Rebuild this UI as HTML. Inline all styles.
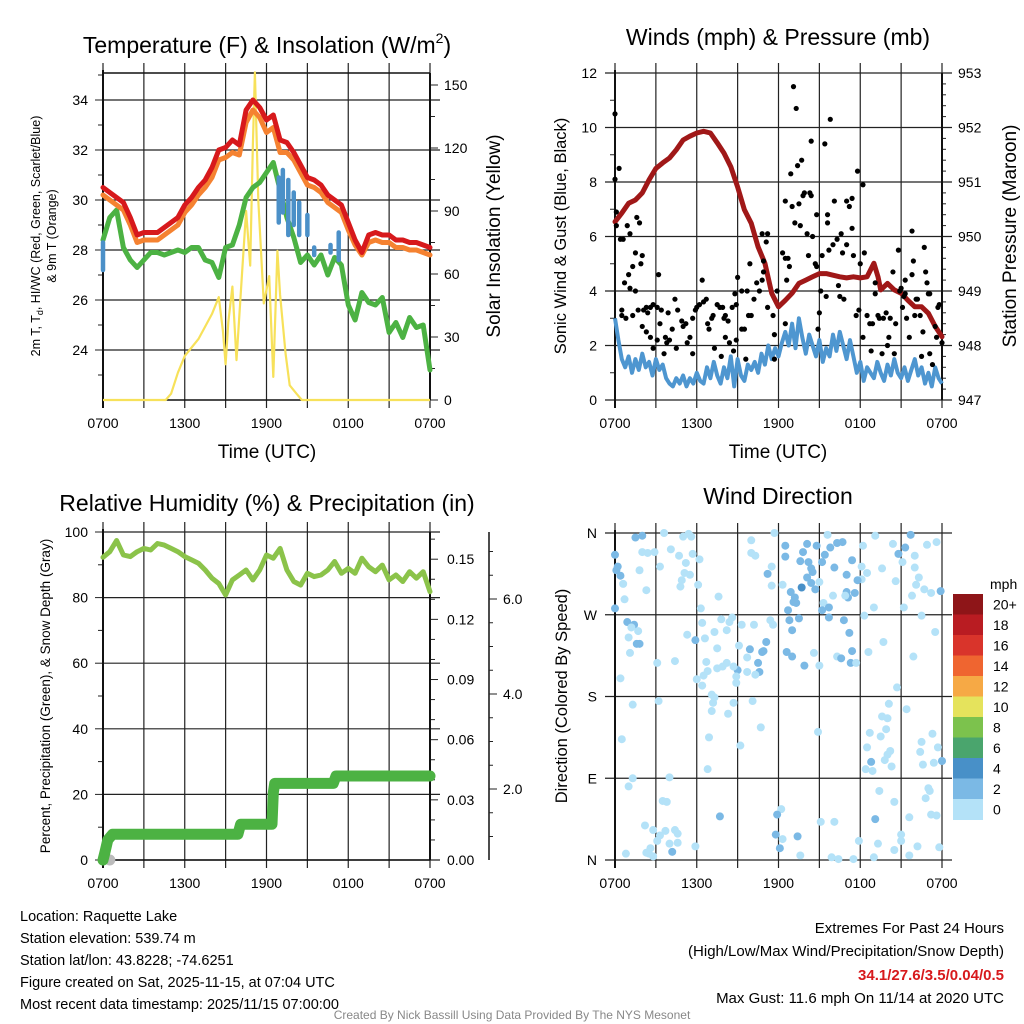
<!DOCTYPE html>
<html><head><meta charset="utf-8"><style>
html,body{margin:0;padding:0;background:#fff;}
svg{display:block;font-family:"Liberation Sans",Arial,sans-serif;}
</style></head><body>
<svg id="c" width="1024" height="1024" viewBox="0 0 1024 1024" xmlns="http://www.w3.org/2000/svg">
<rect width="1024" height="1024" fill="#fff"/>
<text x="267" y="53" font-size="23" text-anchor="middle">Temperature (F) &amp; Insolation (W/m<tspan font-size="14" dy="-10">2</tspan><tspan dy="10">)</tspan></text>
<text x="778" y="45" font-size="23" text-anchor="middle">Winds (mph) &amp; Pressure (mb)</text>
<text x="267" y="511" font-size="23" text-anchor="middle">Relative Humidity (%) &amp; Precipitation (in)</text>
<text x="778" y="504" font-size="23" text-anchor="middle">Wind Direction</text>
<g font-size="12.5" text-anchor="middle">
<text transform="translate(40,236) rotate(-90)">2m T, T<tspan font-size="9" dy="3">d</tspan><tspan dy="-3">, HI/WC (Red, Green, Scarlet/Blue)</tspan></text>
<text transform="translate(56,236) rotate(-90)">&amp; 9m T (Orange)</text>
</g>
<text transform="translate(500,236) rotate(-90)" font-size="19" text-anchor="middle">Solar Insolation (Yellow)</text>
<text x="267" y="458" font-size="19" text-anchor="middle">Time (UTC)</text>
<text x="778" y="458" font-size="19" text-anchor="middle">Time (UTC)</text>
<text transform="translate(566,236) rotate(-90)" font-size="16.5" text-anchor="middle">Sonic Wind &amp; Gust (Blue, Black)</text>
<text transform="translate(1016,236) rotate(-90)" font-size="19" text-anchor="middle">Station Pressure (Maroon)</text>
<text transform="translate(50,696) rotate(-90)" font-size="13.5" text-anchor="middle">Percent, Precipitation (Green), &amp; Snow Depth (Gray)</text>
<text transform="translate(567,696) rotate(-90)" font-size="16.5" text-anchor="middle">Direction (Colored By Speed)</text>
<g font-size="14.5">
<text x="20" y="921">Location: Raquette Lake</text>
<text x="20" y="943">Station elevation: 539.74 m</text>
<text x="20" y="965">Station lat/lon: 43.8228; -74.6251</text>
<text x="20" y="987">Figure created on Sat, 2025-11-15, at 07:04 UTC</text>
<text x="20" y="1009">Most recent data timestamp: 2025/11/15 07:00:00</text>
</g>
<g font-size="15" text-anchor="end">
<text x="1004" y="933">Extremes For Past 24 Hours</text>
<text x="1004" y="956">(High/Low/Max Wind/Precipitation/Snow Depth)</text>
<text x="1004" y="980" fill="#d7191c" font-weight="bold">34.1/27.6/3.5/0.04/0.5</text>
<text x="1004" y="1003">Max Gust: 11.6 mph On 11/14 at 2020 UTC</text>
</g>
<text x="512" y="1019" font-size="12" fill="#888" text-anchor="middle">Created By Nick Bassill Using Data Provided By The NYS Mesonet</text>
</svg>
<script>
// ---------- Panel 1 data ----------
const tHours = [0,0.5,1,1.5,2,2.5,3,3.5,4,4.5,5,5.5,6,6.5,7,7.5,8,8.5,9,9.5,10,10.5,11,11.5,12,12.5,13,13.5,14,14.5,15,15.5,16,16.5,17,17.5,18,18.5,19,19.5,20,20.5,21,21.5,22,22.5,23,23.5,24];
const tempRed = [30.5,30.3,30.1,29.9,29.3,28.6,28.7,28.7,28.7,28.9,29.1,29.3,29.8,30.1,30.5,30.8,31.3,32.0,32.1,32.4,32.2,33.6,34.0,33.7,33.2,33.4,32.4,32.3,31.9,31.4,30.9,30.8,30.6,30.2,30.0,29.8,29.1,28.4,27.9,28.6,28.7,28.6,28.6,28.4,28.4,28.3,28.3,28.2,28.1];
const temp9m = [30.2,30.0,29.8,29.6,29.0,28.3,28.4,28.4,28.4,28.6,28.8,29.0,29.5,29.8,30.2,30.5,30.9,31.6,31.7,31.9,31.8,33.1,33.6,33.3,32.7,32.9,31.9,31.9,31.6,31.1,30.6,30.5,30.3,29.9,29.7,29.5,28.8,28.2,27.8,28.3,28.4,28.3,28.3,28.1,28.1,28.0,28.0,27.9,27.8];
const dewGreen = [28.4,29.3,29.6,28.1,27.6,27.3,27.6,27.9,27.9,27.8,27.9,28.0,27.9,28.1,28.1,27.6,27.5,26.9,28.1,28.2,29.0,30.1,30.5,30.7,31.1,31.5,30.4,29.3,28.5,27.5,27.8,27.4,27.8,27.0,27.7,27.4,25.8,25.2,26.3,25.9,25.8,26.1,24.7,25.1,24.5,25.3,24.9,25.0,23.2];
const wcHours = [0.0,12.9,13.2,13.6,14.0,14.4,15.0,15.5,16.7,17.3];
const wcLow = [27.2,29.1,29.5,28.6,29.0,28.6,28.6,27.8,27.9,27.6];
const wcHigh = [28.3,30.9,31.2,30.8,30.3,29.9,29.4,28.1,28.2,28.7];
const solarHours = [0,4.6,5,5.5,6,6.5,7,7.5,8,8.5,8.8,9,9.2,9.5,9.8,10.2,10.5,10.8,11,11.15,11.4,11.8,12.2,12.5,12.8,13,13.4,13.7,14.2,14.6,24];
const solarVals = [0,0,3,13,21,25,29,35,41,49,33,17,37,54,19,60,90,64,122,156,95,46,59,11,71,50,22,7,3,0,0];
const tempTicks = [24,26,28,30,32,34];
const solarTicks = [0,30,60,90,120,150];
const timeLabels = ["0700","1300","1900","0100","0700"];
// ---------- Panel 2 data ----------
const presHours = [0,0.5,1,1.5,2,2.5,3,3.5,4,4.5,5,5.5,6,6.5,7,7.5,8,8.5,9,9.5,10,10.5,11,11.5,12,12.5,13,13.5,14,14.5,15,15.5,16,16.5,17,17.5,18,18.5,19,19.3,19.5,20,20.5,21,21.5,22,22.5,23,23.5,24];
const presVals = [950.27,950.43,950.61,950.67,950.8,951.04,951.25,951.35,951.44,951.59,951.77,951.84,951.9,951.93,951.9,951.72,951.53,951.28,950.91,950.49,950.24,949.81,949.51,948.96,948.71,948.83,948.96,949.14,949.2,949.26,949.32,949.32,949.29,949.26,949.24,949.26,949.24,949.26,949.51,949.26,949.02,949.14,949.02,948.96,948.83,948.71,948.71,948.59,948.35,948.16];
const sonicVals = [3.0,2.2,1.5,1.2,1.6,1.0,1.5,1.1, 1.7,1.2,1.4,0.9,1.5,1.1,1.3,0.8, 0.6,0.5,0.8,0.6,0.9,0.5,0.8,0.6, 1.0,0.7,0.6,1.2,0.8,1.4,0.9,0.6, 1.2,0.8,1.6,0.5,1.5,0.9,0.7,1.3, 1.1,1.4,1.0,1.7,1.3,2.0,1.5,1.9, 1.6,2.1,2.5,2.0,2.8,1.9,3.0,2.3, 1.7,2.4,2.0,1.6,2.2,1.4,1.9,1.6, 2.4,1.8,2.5,2.0,1.5,2.2,1.6,1.0, 1.4,0.7,1.2,1.0,0.8,1.4,1.0,0.7, 1.3,0.9,1.5,1.0,0.8,1.2,0.7,1.1, 1.5,0.9,1.2,0.6,1.0,0.5,1.2,0.8, 0.6];
const gustHours = [0,0,0.3,0.1,0.1,0.4,0.6,0.9,1.1,1.6,1.8,1.5,1.3,1.9,2.0,1.0,0.7,1.1,1.5,3.2,0.5,0.5,0.8,1.3,1.7,2.1,2.3,2.4,2.6,2.8,3.1,2.0,2.3,2.6,2.8,3.1,3.4,3.3,3.7,3.6,3.8,3.9,4.0,4.2,4.4,4.6,4.9,4.5,5.0,5.2,5.3,5.5,5.7,5.7,5.9,6.0,6.2,6.4,6.5,6.7,6.8,6.9,7.1,7.2,7.3,7.5,7.7,7.8,7.9,8.0,8.1,8.1,8.3,8.4,8.6,8.7,8.9,8.9,8.8,9.0,9.3,9.3,9.5,9.6,9.7,9.8,9.9,10.0,10.2,10.4,10.6,10.8,10.9,10.9,11.1,10.8,11.2,11.2,11.6,11.7,11.7,11.9,12.3,12.5,12.7,12.8,12.6,12.5,12.5,12.9,13.0,13.2,13.4,13.5,13.6,13.7,13.8,13.9,13.1,13.3,14.1,14.2,14.3,14.4,14.4,14.5,14.7,14.8,14.8,14.9,15.0,15.1,15.2,15.4,15.5,15.6,15.6,15.8,15.7,16.0,16.1,16.3,16.4,16.5,16.6,16.7,16.8,17.0,17.0,17.2,17.4,17.4,17.5,17.7,17.8,17.9,18.0,18.2,18.3,18.2,18.5,18.7,18.8,18.9,19.1,19.1,19.3,19.4,19.6,19.7,19.9,20.0,20.1,20.2,20.4,20.5,20.6,20.8,20.9,21.0,21.1,21.2,21.3,21.3,21.4,21.6,21.8,21.8,21.9,22.0,22.1,22.2,22.4,22.5,22.6,22.7,22.8,22.9,23.0,23.1,23.1,23.3,23.5,23.6,23.7,23.8,24.0];
const gustVals = [10.5,8.1,8.5,6.9,6.4,5.9,5.9,6.4,6.1,6.7,6.5,5.4,4.9,5.0,5.3,4.6,4.3,4.1,4.0,4.6,3.3,3.1,3.0,3.1,3.3,3.3,3.4,3.2,3.4,3.5,3.4,2.7,2.5,2.3,1.9,2.2,3.3,2.8,2.3,1.7,2.1,3.2,2.2,2.6,3.7,3.3,2.9,1.9,2.7,2.8,2.1,2.3,1.7,3.0,3.3,3.4,3.5,4.4,3.6,3.7,2.8,2.6,3.0,3.1,1.9,3.5,3.4,1.6,3.4,3.0,3.1,2.3,2.9,2.1,3.4,1.8,3.5,2.2,3.9,4.5,2.6,4.0,2.6,1.5,4.0,3.1,5.0,3.1,3.7,4.3,4.0,4.4,4.7,5.1,5.8,6.1,6.1,3.4,3.1,2.4,1.5,4.0,5.4,5.2,5.2,4.9,4.4,2.8,7.3,8.3,7.1,6.5,8.6,7.2,6.4,8.8,7.5,7.6,11.5,10.7,6.1,5.3,7.6,7.5,9.5,6.0,5.0,4.9,6.8,2.6,3.2,4.0,5.3,9.4,3.8,6.8,6.5,10.3,5.5,5.7,7.3,5.9,4.2,3.8,6.1,5.4,3.7,5.7,7.3,7.1,7.4,6.3,5.3,3.1,8.4,3.3,5.0,7.9,5.4,2.3,3.1,2.8,1.8,2.8,3.9,4.3,3.1,3.0,1.7,3.0,3.2,2.0,2.3,3.0,4.7,1.7,2.8,5.5,4.0,4.1,3.4,3.8,4.4,3.9,3.0,2.3,6.2,4.6,5.1,3.1,3.7,3.7,3.1,1.6,2.5,5.6,4.7,4.3,3.9,3.9,1.7,1.3,2.7,2.3,3.4,3.5,2.1];
const windTicks = [0,2,4,6,8,10,12];
const presTicks = [947,948,949,950,951,952,953];
// ---------- Panel 3 data ----------
const rhHours = tHours;
const rhVals = [92.3,94,97.4,93,92.5,94,95,94.5,96.5,96,95,94,92.5,91.5,90.5,88.4,85.9,84.3,80.8,85.4,86.9,88.4,85.4,88.4,93,92,95,88.4,84.9,83.8,87.4,86.4,86.9,88.4,91,87.4,88.9,87.4,92,89.4,87.9,89.9,85.4,86.9,84.9,87.9,85.9,87.9,81.8];
const precipHours = [0,0.15,0.35,0.7,9.9,10.1,12.4,12.5,12.6,16.9,17.1,24];
const precipVals = [0,0.004,0.010,0.0128,0.0128,0.0178,0.0178,0.0335,0.0382,0.0382,0.0419,0.0419];
const snowHours = [0.5];
const snowVals = [0];
const rhTicks = [0,20,40,60,80,100];
const precipTicks = ["0.00","0.03","0.06","0.09","0.12","0.15"];
const snowTicks = ["2.0","4.0","6.0"];
// ---------- Panel 4 data ----------
const dirHours = [1.5,2.0,3.6,5.0,5.4,5.6,0.0,2.0,2.4,2.9,4.1,4.7,5.7,6.2,0.2,0.1,0.4,1.8,3.3,5.2,5.1,5.5,4.9,4.8,0.6,2.3,6.1,0.7,0.0,6.3,7.6,10.0,11.7,10.0,10.3,12.5,12.5,13.6,13.8,14.1,14.8,15.2,15.4,15.8,16.3,16.7,15.6,18.2,19.1,20.4,21.7,21.3,20.8,22.9,23.6,22.0,21.1,22.0,22.3,22.1,22.7,23.2,23.9,21.8,21.2,22.5,23.5,19.6,20.6,18.1,18.5,18.1,17.8,17.4,17.0,16.1,14.2,14.4,14.5,14.1,14.4,14.7,15.0,13.7,12.9,13.2,13.1,13.3,12.7,12.3,11.5,11.5,11.2,16.0,17.0,17.1,16.9,17.6,15.3,15.2,15.7,15.7,16.8,17.2,12.8,13.5,13.0,12.6,13.0,13.9,14.6,15.0,16.3,16.6,17.4,17.3,17.7,18.6,19.7,20.7,21.9,19.0,18.3,0.9,1.4,1.2,1.7,1.0,1.8,1.6,1.1,3.1,4.4,5.3,5.9,6.4,6.6,7.3,7.8,8.2,8.4,8.6,9.3,10.2,11.4,11.6,11.1,10.9,10.8,10.5,10.6,10.3,9.7,9.0,8.9,8.9,8.7,8.2,7.9,7.5,6.7,7.5,6.8,6.5,6.0,6.4,9.1,9.9,9.7,7.1,7.3,7.2,7.1,8.3,8.7,10.1,10.7,0.4,1.3,3.2,0.5,6.9,9.2,6.8,14.9,20.1,21.4,19.6,20.0,19.9,18.7,19.5,23.3,22.5,23.7,22.4,20.2,20.0,19.8,18.5,18.8,20.3,18.4,18.9,23.4,24.0,22.6,19.4,20.5,23.0,23.1,22.8,23.2,23.6,21.6,19.1,16.1,15.1,12.2,11.9,1.3,4.0,1.0,3.5,3.8,2.2,2.8,3.7,4.4,4.6,3.3,3.1,4.0,4.6,4.2,2.6,2.3,2.5,2.8,0.8,5.9,7.7,11.8,12.3,12.1,13.4,13.6,15.9,16.4,17.5,17.9,19.3,19.0,20.5,21.0,21.0,22.2,21.6,23.8];
const dirVals = [355,357,360,356,359,356,336,339,338,339,342,335,337,331,323,319,313,319,323,327,316,314,308,301,304,297,303,287,277,277,290,352,360,338,335,346,334,329,339,348,346,328,336,344,349,350,358,346,357,348,358,344,337,347,350,335,328,322,311,303,298,294,296,291,278,269,251,321,307,323,316,309,308,330,314,322,328,321,317,311,305,298,306,300,295,289,284,283,275,303,302,323,315,291,295,289,291,294,283,275,278,267,264,250,264,266,253,229,224,214,228,214,224,222,230,217,217,229,240,190,224,278,269,262,259,256,252,245,238,238,228,217,219,248,242,261,244,251,265,253,262,267,259,259,264,259,240,230,229,217,207,204,207,209,202,195,213,217,213,233,218,211,208,203,199,192,236,232,223,182,179,173,164,161,173,175,146,200,171,175,133,135,126,100,141,172,166,158,156,144,140,136,139,130,124,119,120,116,110,124,108,103,100,98,107,109,105,76,64,79,76,68,50,49,47,45,42,42,56,50,90,91,81,65,64,38,33,32,33,29,27,21,18,19,9,13,8,7,4,7,15,48,28,23,13,26,5,3,1,1,21,18,3,11,28,21,15,5,14];
const dirSpeeds = [3,3,1,1,1,1,3,1,1,1,1,1,1,1,3,3,3,1,1,1,1,1,1,1,1,1,1,1,3,1,1,1,1,1,1,3,3,3,3,3,3,3,3,3,3,3,1,1,1,1,3,3,3,1,1,1,1,1,1,1,1,1,3,1,1,1,1,1,1,1,1,1,3,3,3,3,3,3,3,3,3,3,1,5,3,3,3,3,3,1,1,1,3,1,3,3,1,3,1,3,3,3,3,3,3,3,3,3,3,3,1,1,1,3,3,3,1,1,1,1,1,1,1,3,3,1,1,1,3,3,1,1,1,1,3,1,1,1,1,1,1,1,1,1,1,1,3,3,3,3,3,1,1,3,1,1,1,1,1,1,1,1,1,1,1,1,1,3,1,1,1,1,1,1,1,1,1,1,1,1,1,1,1,1,1,1,1,1,1,1,1,1,1,1,1,1,1,1,1,1,3,1,1,1,1,3,1,1,1,1,1,1,1,1,1,3,1,1,1,3,1,1,1,1,1,1,1,1,1,1,1,1,1,1,3,1,1,1,1,1,1,3,3,1,3,3,1,1,1,1,1,1,1,1,1,1,1,1,1,1,1,1,1,1];
const dirTicks = ["N","E","S","W","N"];
const speedBins = ["0","2","4","6","8","10","12","14","16","18","20+"];
const speedColors = ["#b4e2f8","#7bb9e5","#4890c8","#4aa56d","#7cc24d","#e5e35c","#f6a945","#ef6530","#d9342b","#b91c22","#8e1518"];

// ---------- helpers ----------
const NS = "http://www.w3.org/2000/svg";
const svg = document.getElementById("c");
function mk(tag, attrs, parent) {
  const e = document.createElementNS(NS, tag);
  for (const k in attrs) e.setAttribute(k, attrs[k]);
  (parent || svg).appendChild(e);
  return e;
}
function lin(d0, d1, r0, r1) { return v => r0 + (v - d0) * (r1 - r0) / (d1 - d0); }
function pathD(xs, ys, fx, fy) { return xs.map((x, i) => (i ? "L" : "M") + fx(x).toFixed(1) + "," + fy(ys[i]).toFixed(1)).join(""); }
function txt(x, y, s, size, anchor, parent) {
  const t = mk("text", { x: x, y: y, "font-size": size, "text-anchor": anchor || "middle" }, parent);
  t.textContent = s;
  return t;
}
function frame(name, x0, x1, y0, y1) {
  const g = mk("g", {});
  
  
  const fx = lin(0, 24, x0, x1);
  for (let h = 0; h <= 24; h += 3) {
    mk("line", { x1: fx(h), x2: fx(h), y1: y0 - 10, y2: y1 + 8, stroke: "#222", "stroke-width": 1.2 }, g);
  }
  return { g, fx };
}
function hgrid(g, x0, x1, y, ext) {
  mk("line", { x1: x0 - (ext || 0), x2: x1 + 10, y1: y, y2: y, stroke: "#222", "stroke-width": 1.2 }, g);
}
function timeLabelsAt(g, fx, y) {
  timeLabels.forEach((s, i) => {
    const t = txt(fx(i * 6), y, s, 14, "middle", g);
    
    
  });
}

// ---------- Panel 1 ----------
(function () {
  const x0 = 103, x1 = 430, y0 = 73, y1 = 400;
  const f = frame("temperature-panel", x0, x1, y0, y1);
  const g = f.g, fx = f.fx;
  const fy = lin(22, 34, 400, 100);
  const fs = lin(0, 150, 400, 85);
  for (let v = 23; v <= 35; v++) {
    const y = fy(v);
    if (y < y0) continue;
    if (v % 2 === 0) hgrid(g, x0, x1, y, 0);
    mk("line", { x1: x0 - (v % 2 === 0 ? 8 : 5), x2: x0, y1: y, y2: y, stroke: "#222" }, g);
  }
  tempTicks.forEach(v => { const t = txt(88, fy(v) + 5, String(v), 14, "end", g);   });
  for (let v = 0; v <= 150; v += 15) {
    mk("line", { x1: x1, x2: x1 + (v % 30 === 0 ? 8 : 5), y1: fs(v), y2: fs(v), stroke: "#222" }, g);
  }
  solarTicks.forEach(v => { const t = txt(444, fs(v) + 5, String(v), 14, "start", g);   });
  mk("line", { x1: x0, x2: x0, y1: y0 - 3, y2: y1 + 8, stroke: "#111", "stroke-width": 2 }, g);
  mk("line", { x1: x1, x2: x1, y1: y0, y2: y1, stroke: "#111", "stroke-width": 2 }, g);
  mk("line", { x1: x0, x2: x1, y1: y0, y2: y0, stroke: "#111", "stroke-width": 1.5 }, g);
  mk("line", { x1: x0, x2: x1, y1: y1, y2: y1, stroke: "#111", "stroke-width": 1.5 }, g);
  const sol = mk("path", { d: pathD(solarHours, solarVals, fx, fs), fill: "none", stroke: "#f7e15a", "stroke-width": 2.2, "stroke-linejoin": "round" }, g);
  
  
  const gr = mk("path", { d: pathD(tHours, dewGreen, fx, fy), fill: "none", stroke: "#4cb243", "stroke-width": 5, "stroke-linejoin": "round", "stroke-linecap": "round" }, g);
  
  
  wcHours.forEach((h, i) => {
    const s = mk("line", { x1: fx(h), x2: fx(h), y1: fy(wcLow[i]), y2: fy(wcHigh[i]), stroke: "#4b90c8", "stroke-width": 4.5, "stroke-linecap": "round" }, g);
    
    
  });
  const or = mk("path", { d: pathD(tHours, temp9m, fx, fy), fill: "none", stroke: "#f58231", "stroke-width": 5, "stroke-linejoin": "round", "stroke-linecap": "round" }, g);
  
  
  const rd = mk("path", { d: pathD(tHours, tempRed, fx, fy), fill: "none", stroke: "#d7191c", "stroke-width": 5, "stroke-linejoin": "round", "stroke-linecap": "round" }, g);
  
  
  timeLabelsAt(g, fx, 428);
})();

// ---------- Panel 2 ----------
(function () {
  const x0 = 615, x1 = 942, y0 = 73, y1 = 400;
  const f = frame("wind-pressure-panel", x0, x1, y0, y1);
  const g = f.g, fx = f.fx;
  const fy = lin(0, 12, 400, 73);
  const fp = lin(947, 953, 400, 73);
  for (let v = 0; v <= 12; v += 1) {
    if (v % 2 === 0) hgrid(g, x0, x1, fy(v), 10);
    else mk("line", { x1: x0 - 5, x2: x0, y1: fy(v), y2: fy(v), stroke: "#222" }, g);
  }
  windTicks.forEach(v => { const t = txt(597, fy(v) + 5, String(v), 14, "end", g);   });
  for (let v = 947; v <= 953.001; v += 0.2) {
    const isMaj = Math.abs(v - Math.round(v)) < 0.01;
    mk("line", { x1: x1, x2: x1 + (isMaj ? 8 : 4), y1: fp(v), y2: fp(v), stroke: "#222" }, g);
  }
  presTicks.forEach(v => { const t = txt(958, fp(v) + 5, String(v), 14, "start", g);   });
  mk("line", { x1: x0, x2: x0, y1: y0 - 3, y2: y1 + 8, stroke: "#111", "stroke-width": 2 }, g);
  mk("line", { x1: x1, x2: x1, y1: y0, y2: y1, stroke: "#111", "stroke-width": 2 }, g);
  const sHours = sonicVals.map((v, i) => i * 0.25);
  const so = mk("path", { d: pathD(sHours, sonicVals, fx, fy), fill: "none", stroke: "#4e96d0", "stroke-width": 4, "stroke-linejoin": "round" }, g);
  
  
  const pr = mk("path", { d: pathD(presHours, presVals, fx, fp), fill: "none", stroke: "#a01818", "stroke-width": 5, "stroke-linejoin": "round", "stroke-linecap": "round" }, g);
  
  
  gustHours.forEach((h, i) => {
    const c = mk("circle", { cx: fx(h), cy: fy(gustVals[i]), r: 2.6, fill: "#000" }, g);
    
    
  });
  timeLabelsAt(g, fx, 428);
})();

// ---------- Panel 3 ----------
(function () {
  const x0 = 103, x1 = 430, y0 = 532, y1 = 860;
  const f = frame("humidity-precip-panel", x0, x1, y0, y1);
  const g = f.g, fx = f.fx;
  const fy = lin(0, 100, 860, 532);
  const fpr = lin(0, 0.15, 860, 559.2);
  for (let v = 0; v <= 100; v += 10) {
    if (v % 20 === 0) hgrid(g, x0, x1, fy(v), 0);
    mk("line", { x1: x0 - (v % 20 === 0 ? 8 : 5), x2: x0, y1: fy(v), y2: fy(v), stroke: "#222" }, g);
  }
  rhTicks.forEach(v => { const t = txt(88, fy(v) + 5, String(v), 14, "end", g);   });
  for (let i = 0; i <= 16; i++) {
    const v = i * 0.01;
    const y = fpr(v);
    if (y < y0) continue;
    mk("line", { x1: x1, x2: x1 + (i % 3 === 0 ? 8 : 5), y1: y, y2: y, stroke: "#222" }, g);
  }
  precipTicks.forEach(s => { const t = txt(447, fpr(parseFloat(s)) + 5, s, 14, "start", g);   });
  const snowX = 489;
  const fsn = lin(2, 6, 789, 599);
  mk("line", { x1: snowX, x2: snowX, y1: 532, y2: 860, stroke: "#111", "stroke-width": 1.5 }, g);
  for (let v = 0.5; v <= 7; v += 0.5) {
    const y = fsn(v);
    if (y < 532 || y > 860) continue;
    mk("line", { x1: snowX, x2: snowX + (v % 2 === 0 ? 8 : 4), y1: y, y2: y, stroke: "#222" }, g);
  }
  snowTicks.forEach(s => { const t = txt(503, fsn(parseFloat(s)) + 5, s, 14, "start", g);   });
  mk("line", { x1: x0, x2: x0, y1: y0 - 3, y2: y1 + 8, stroke: "#111", "stroke-width": 2 }, g);
  mk("line", { x1: x1, x2: x1, y1: y0, y2: y1, stroke: "#111", "stroke-width": 2 }, g);
  mk("line", { x1: x0, x2: x1, y1: y1, y2: y1, stroke: "#111", "stroke-width": 1.5 }, g);
  const rh = mk("path", { d: pathD(rhHours, rhVals, fx, fy), fill: "none", stroke: "#8bc34a", "stroke-width": 5, "stroke-linejoin": "round", "stroke-linecap": "round" }, g);
  
  
  snowHours.forEach((h, i) => {
    const c = mk("circle", { cx: fx(h), cy: Math.min(860, fsn(snowVals[i])), r: 5.5, fill: "#bbb" }, g);
    
    
  });
  const pp = mk("path", { d: pathD(precipHours, precipVals, fx, fpr), fill: "none", stroke: "#4cb243", "stroke-width": 11, "stroke-linejoin": "round", "stroke-linecap": "round" }, g);
  
  
  timeLabelsAt(g, fx, 888);
})();

// ---------- Panel 4 ----------
(function () {
  const x0 = 615, x1 = 942, y0 = 533, y1 = 860;
  const f = frame("wind-direction-panel", x0, x1, y0, y1);
  const g = f.g, fx = f.fx;
  const fy = lin(0, 360, 860, 533);
  for (let i = 0; i <= 4; i++) hgrid(g, x0, x1, fy(i * 90), 10);
  dirTicks.forEach((s, i) => { const t = txt(597, fy(i * 90) + 5, s, 14, "end", g);   });
  mk("line", { x1: x0, x2: x0, y1: y0 - 3, y2: y1 + 8, stroke: "#111", "stroke-width": 2 }, g);
  function colorFor(s) {
    if (typeof s !== "number" || isNaN(s)) s = 1;
    const k = Math.max(0, Math.min(10, Math.floor(s / 2)));
    return speedColors[k];
  }
  dirHours.forEach((h, i) => {
    const c = mk("circle", { cx: fx(h), cy: fy(dirVals[i]), r: 4, fill: colorFor(dirSpeeds[i]) }, g);
    
    
  });
  timeLabelsAt(g, fx, 888);
  const cb = mk("g", {});
  
  
  const bx = 953, bw = 30, by = 594, bh = 20.5;
  txt(990, 589, "mph", 14, "start", cb);
  for (let i = 0; i < speedBins.length; i++) {
    const k = speedBins.length - 1 - i;
    const r = mk("rect", { x: bx, y: by + i * bh, width: bw, height: bh + 0.5, fill: speedColors[k] }, cb);
    
    
    txt(993, by + i * bh + bh / 2 + 5, speedBins[k], 14, "start", cb);
  }
})();
</script>
</body></html>
